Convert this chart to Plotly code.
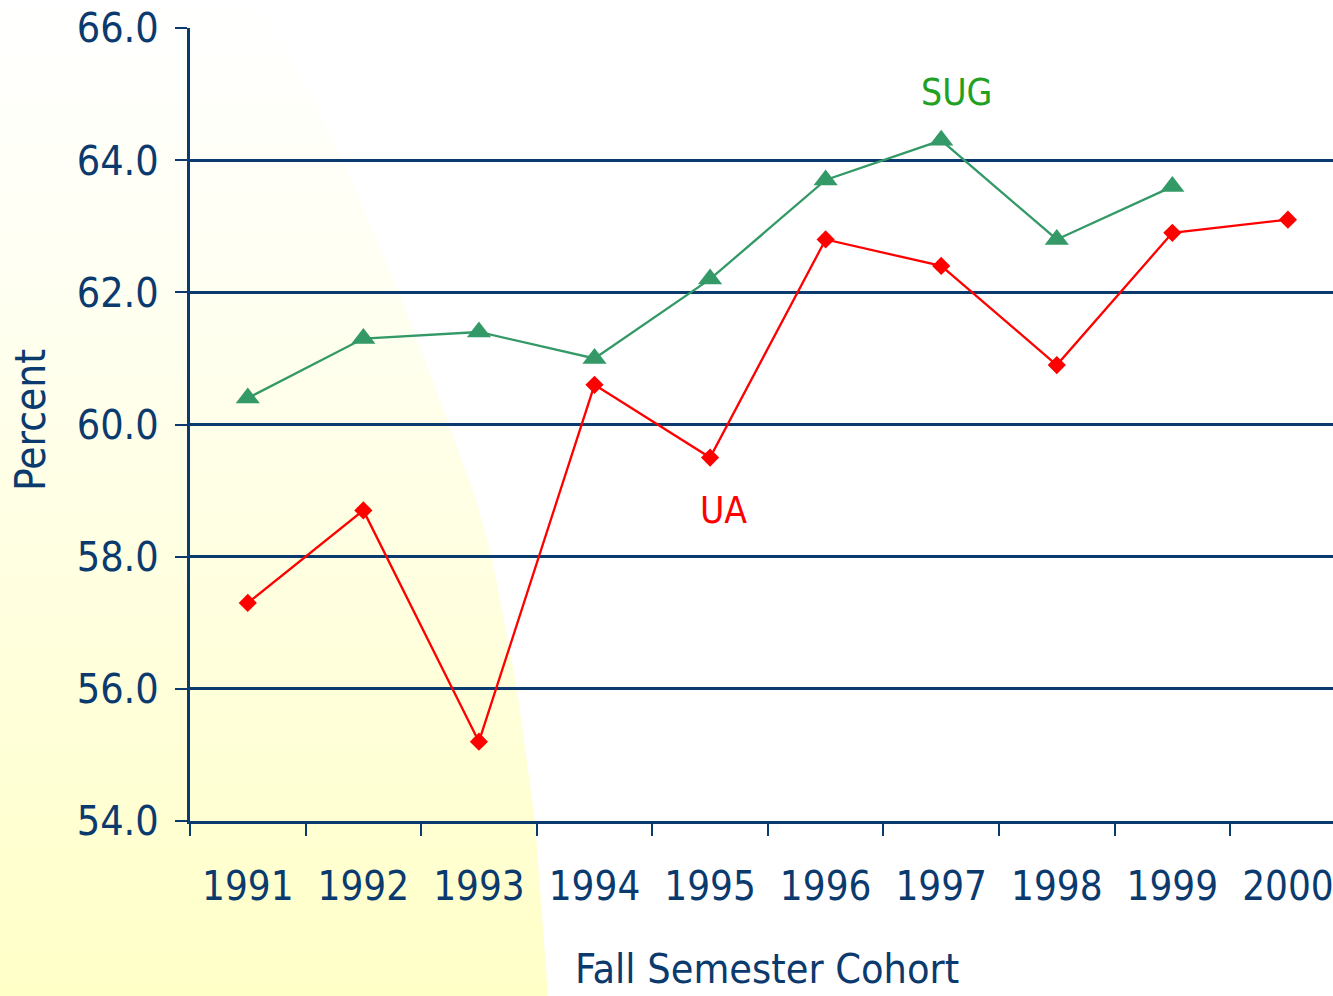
import plotly.graph_objects as go

years = ["1991", "1992", "1993", "1994", "1995", "1996", "1997", "1998", "1999", "2000"]
sug = [60.4, 61.3, 61.4, 61.0, 62.2, 63.7, 64.3, 62.8, 63.6, None]
ua = [57.3, 58.7, 55.2, 60.6, 59.5, 62.8, 62.4, 60.9, 62.9, 63.1]
y_ticks = [54, 56, 58, 60, 62, 64, 66]
y_tick_text = ["54.0", "56.0", "58.0", "60.0", "62.0", "64.0", "66.0"]

# decorative background region (pixel coords of the page)
bg_x = [0, 262, 276, 314, 360, 402, 440, 476, 492, 517, 535, 548, 0, 0]
bg_y = [0, 0, 33, 100, 200, 300, 400, 500, 558, 689, 821, 996, 996, 0]

NAVY = "#0B3A6E"
FONT = "DejaVu Sans Condensed, Roboto, sans-serif"
W, H = 1333, 996

fig = go.Figure()

fig.add_trace(go.Scatter(
    x=bg_x, y=bg_y, mode="lines", line=dict(width=0),
    fill="toself", fillcolor="#FFFFE0",
    fillgradient=dict(type="vertical", start=0, stop=H,
                      colorscale=[[0, "#FFFFFF"], [0.25, "#FFFFF4"], [1, "#FFFFC8"]]),
    xaxis="x", yaxis="y", hoverinfo="skip", showlegend=False,
))

fig.add_trace(go.Scatter(
    x=years, y=sug, mode="lines+markers",
    line=dict(color="#339966", width=2.3),
    marker=dict(symbol="triangle-up", size=21, color="#339966"),
    xaxis="x2", yaxis="y2", showlegend=False, name="SUG",
))
fig.add_trace(go.Scatter(
    x=years, y=ua, mode="lines+markers",
    line=dict(color="#FF0000", width=2.3),
    marker=dict(symbol="diamond", size=14, color="#FF0000"),
    xaxis="x2", yaxis="y2", showlegend=False, name="UA",
))

fig.update_layout(
    width=W, height=H,
    margin=dict(l=0, r=0, t=0, b=0, autoexpand=False),
    paper_bgcolor="white", plot_bgcolor="rgba(0,0,0,0)",
    font=dict(family=FONT, color=NAVY),
    xaxis=dict(domain=[0, 1], range=[0, W], visible=False, fixedrange=True, automargin=False),
    yaxis=dict(domain=[0, 1], range=[H, 0], visible=False, fixedrange=True, automargin=False),
    xaxis2=dict(
        domain=[190 / W, 1.0], anchor="y2", type="category",
        range=[-0.5, 9.39],
        showgrid=False, showline=True, linecolor=NAVY, linewidth=3,
        ticks="outside", tickson="boundaries", ticklen=12, tickwidth=2, tickcolor=NAVY,
        tickfont=dict(size=40, color=NAVY, family=FONT),
        ticklabelstandoff=28, ticklabeloverflow="allow",
        automargin=False, zeroline=False,
    ),
    yaxis2=dict(
        domain=[(H - 821) / H, (H - 28) / H], anchor="x2",
        range=[54, 66],
        tickmode="array", tickvals=y_ticks, ticktext=y_tick_text,
        showgrid=True, gridcolor=NAVY, gridwidth=3,
        showline=True, linecolor=NAVY, linewidth=3,
        ticks="outside", ticklen=12, tickwidth=2, tickcolor=NAVY,
        tickfont=dict(size=41, color=NAVY, family=FONT),
        ticklabelstandoff=8, ticklabeloverflow="allow",
        automargin=False, zeroline=False,
    ),
    annotations=[
        dict(x=767, y=969, xref="x", yref="y", text="Fall Semester Cohort", showarrow=False,
             font=dict(size=41, color=NAVY, family=FONT)),
        dict(x=30, y=420, xref="x", yref="y", text="Percent", showarrow=False, textangle=-90,
             font=dict(size=42, color=NAVY, family=FONT)),
        dict(x=956, y=92, xref="x", yref="y", text="SUG", showarrow=False,
             font=dict(size=37, color="#22A022", family=FONT)),
        dict(x=723, y=510, xref="x", yref="y", text="UA", showarrow=False,
             font=dict(size=37, color="#FF0000", family=FONT)),
    ],
)

fig.write_html(
    "out.html",
    config={"displayModeBar": False},
    post_script="document.body.style.margin='0';document.body.style.overflow='hidden';",
)
